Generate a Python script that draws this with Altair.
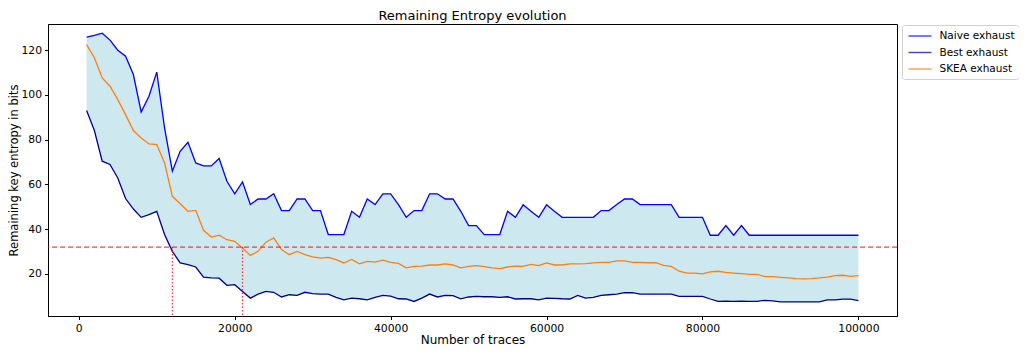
import altair as alt
import pandas as pd

traces = list(range(1000, 100001, 1000))

naive = [125.8, 126.6, 127.6, 124.5, 120.0, 117.3, 109.1, 92.4, 99.4, 110.2,
         85.3, 65.9, 74.8, 78.8, 69.6, 68.3, 68.3, 71.6, 61.4, 55.8,
         61.1, 51.0, 53.5, 53.5, 55.8, 48.3, 48.3, 53.5, 53.5, 48.3,
         48.3, 37.6, 37.6, 37.6, 48.0, 45.3, 53.5, 51.0, 55.8, 55.8,
         51.0, 45.3, 48.3, 48.3, 55.8, 55.8, 53.5, 53.5, 48.0, 41.6,
         41.6, 37.6, 37.6, 37.6, 48.0, 45.3, 50.9, 48.0, 45.3, 50.9,
         48.0, 45.3, 45.3, 45.3, 45.3, 45.3, 48.3, 48.3, 51.0, 53.5,
         53.5, 51.0, 51.0, 51.0, 51.0, 51.0, 45.3, 45.3, 45.3, 45.3,
         37.3, 37.3, 41.6, 37.3, 41.6, 37.3, 37.3, 37.3, 37.3, 37.3,
         37.3, 37.3, 37.3, 37.3, 37.3, 37.3, 37.3, 37.3, 37.3, 37.3]

best = [93.0, 84.1, 70.4, 68.9, 62.9, 53.7, 49.0, 45.3, 46.5, 48.0,
        37.6, 30.1, 24.9, 24.2, 23.1, 18.6, 18.2, 18.1, 14.9, 15.2,
        12.2, 9.2, 11.0, 12.2, 11.8, 9.7, 10.7, 10.4, 11.8, 11.2,
        11.0, 11.0, 9.5, 8.4, 9.2, 8.9, 8.4, 9.5, 10.4, 10.1,
        8.9, 8.8, 7.7, 9.2, 11.0, 9.7, 10.4, 10.3, 8.9, 9.7,
        10.0, 9.8, 9.8, 9.5, 9.8, 8.8, 8.9, 8.9, 8.4, 9.2,
        9.1, 8.9, 8.8, 10.4, 9.2, 9.5, 10.4, 10.7, 11.0, 11.6,
        11.6, 11.0, 11.0, 11.0, 11.0, 11.0, 10.0, 10.0, 10.0, 10.0,
        8.8, 7.7, 7.8, 7.7, 7.8, 7.7, 7.7, 8.2, 8.0, 7.5,
        7.5, 7.5, 7.5, 7.5, 7.5, 8.4, 8.4, 8.7, 8.7, 8.1]

skea = [122.5, 116.6, 107.6, 103.9, 97.9, 91.2, 84.1, 80.8, 78.1, 77.8,
        69.6, 54.7, 51.4, 48.0, 48.4, 39.5, 36.5, 37.3, 35.3, 34.6,
        31.6, 28.3, 30.1, 34.2, 36.1, 30.9, 28.6, 30.1, 28.6, 27.6,
        27.1, 27.4, 26.4, 24.9, 26.5, 24.5, 25.6, 25.3, 26.2, 25.2,
        24.7, 22.7, 23.4, 23.5, 24.0, 24.0, 24.5, 24.0, 22.7, 23.4,
        23.7, 23.3, 22.7, 22.4, 23.1, 23.5, 23.4, 24.3, 23.7, 24.9,
        24.0, 24.0, 24.5, 24.5, 24.6, 24.9, 25.2, 25.2, 25.8, 25.8,
        25.2, 25.2, 25.0, 25.0, 23.8, 23.4, 21.2, 20.4, 20.4, 20.0,
        20.9, 21.2, 20.7, 20.4, 20.1, 19.8, 19.8, 18.8, 18.8, 18.5,
        18.2, 17.9, 17.8, 17.9, 18.2, 18.6, 19.2, 19.4, 18.9, 19.2]

threshold = [32]
cross_x = [12000, 21000]
series_names = ["Naive exhaust", "Best exhaust", "SKEA exhaust"]
series_colors = ["#0000ff", "#00008b", "#ff7f0e"]
x_ticks = [0, 20000, 40000, 60000, 80000, 100000]
y_ticks = [20, 40, 60, 80, 100, 120]

W, H = 849, 292
FONT = "DejaVu Sans"

wide = pd.DataFrame({"traces": traces, "naive": naive, "best": best})
long = pd.DataFrame({
    "traces": traces * 3,
    "value": naive + best + skea,
    "series": [n for n in series_names for _ in traces],
})

xscale = alt.Scale(domain=[-3950, 104950], nice=False, zero=False)
yscale = alt.Scale(domain=[1.2, 131.7], nice=False, zero=False)

area = alt.Chart(wide).mark_area(color="#add8e6", opacity=0.6).encode(
    x=alt.X("traces:Q", scale=xscale,
            axis=alt.Axis(values=x_ticks, format="d", title="Number of traces",
                          labelPadding=2.5, titlePadding=2)),
    y=alt.Y("best:Q", scale=yscale,
            axis=alt.Axis(values=y_ticks, format="d", title="Remaining key entropy in bits",
                          titlePadding=1, titleFontSize=11.5)),
    y2="naive:Q",
)

lines = alt.Chart(long).mark_line(strokeWidth=1.3).encode(
    x=alt.X("traces:Q", scale=xscale),
    y=alt.Y("value:Q", scale=yscale),
    color=alt.Color(
        "series:N",
        scale=alt.Scale(domain=series_names, range=series_colors),
        sort=series_names,
        legend=alt.Legend(
            title=None, orient="none", legendX=854, legendY=1,
            symbolType="M-0.75,0H3.08", symbolSize=144, symbolStrokeWidth=1.5,
            symbolOpacity=0.7,
            labelFont=FONT, labelFontSize=10.5, labelColor="black",
            labelOffset=19.5, rowPadding=3.5,
            strokeColor="#d0d0d0", fillColor="white", padding=4,
            cornerRadius=3,
        ),
    ),
)

hline = alt.Chart(pd.DataFrame({"y": threshold})).mark_rule(
    color="red", strokeDash=[5, 3], opacity=0.75, strokeWidth=1.2
).encode(y=alt.Y("y:Q", scale=yscale))

vlines = alt.Chart(pd.DataFrame({"x": cross_x, "y": threshold * 2})).mark_rule(
    color="red", strokeDash=[1.5, 2], opacity=0.8, strokeWidth=1.2
).encode(
    x=alt.X("x:Q", scale=xscale),
    y=alt.Y("y:Q", scale=yscale),
    y2=alt.value(H),
)

chart = alt.layer(area, lines, hline, vlines).properties(
    width=W, height=H,
    title=alt.TitleParams("Remaining Entropy evolution", font=FONT, fontSize=13,
                          fontWeight="normal", color="black", offset=1),
    autosize=alt.AutoSizeParams(type="none"),
    padding={"left": 40, "top": 16, "right": 122, "bottom": 31},
).configure_view(
    stroke="black", strokeWidth=1
).configure_axis(
    grid=False, domainColor="black", tickColor="black", tickSize=3.5,
    labelFont=FONT, labelFontSize=10.8, labelColor="black", labelPadding=3,
    titleFont=FONT, titleFontSize=12, titleFontWeight="normal", titleColor="black",
)

chart.save("out.html", embed_options={"renderer": "svg", "actions": False})
